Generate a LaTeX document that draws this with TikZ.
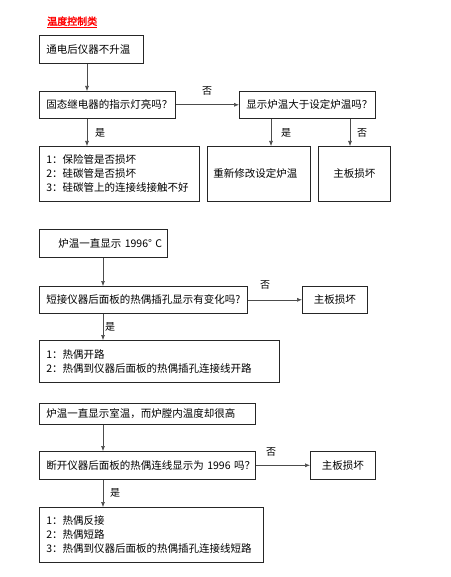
\documentclass[tikz,border=0pt]{standalone}
\usepackage{fontspec}
\setmainfont{Noto Sans CJK SC}
\newfontfamily\titlefont[FakeBold=2.5]{Noto Sans CJK SC}
\usetikzlibrary{arrows.meta}
\tikzset{
  box/.style={draw=black!85, line width=0.6pt, anchor=north west, inner xsep=7pt, inner ysep=0pt,
    align=left, font=\fontsize{10.5}{14}\selectfont},
  cbox/.style={draw=black!85, line width=0.6pt, anchor=north west, inner sep=0pt,
    align=center, font=\fontsize{10.5}{14}\selectfont},
  arr/.style={draw=black!70, line width=0.6pt, -{Latex[length=5pt,width=4pt]}},
  lbl/.style={font=\fontsize{10}{12}\selectfont, inner sep=0pt}
}
\begin{document}
\begin{tikzpicture}[x=1pt,y=-1pt]
\useasboundingbox (0,0) rectangle (450,577);
\node[anchor=base west, inner sep=0pt, text=red, font=\fontsize{10}{12}\selectfont\titlefont] (title) at (47,25) {\underline{温度控制类}};
% section 1
\node[box, text width=90pt, minimum height=28pt] (b1) at (39,35) {通电后仪器不升温};
\node[box, text width=122pt, minimum height=27pt] (b2) at (39,91) {固态继电器的指示灯亮吗？};
\node[box, text width=122pt, minimum height=27pt] (b3) at (239,91) {显示炉温大于设定炉温吗？};
\node[box, text width=146pt, minimum height=55pt] (b4) at (39,146) {1：保险管是否损坏\\2：硅碳管是否损坏\\3：硅碳管上的连接线接触不好};
\node[box, inner xsep=6pt, text width=91pt, minimum height=55pt] (b5) at (207,146) {重新修改设定炉温};
\node[cbox, minimum width=72pt, minimum height=55pt] (b6) at (318,146) {主板损坏};
\coordinate (x1) at (87,0);
\coordinate (x2) at (271,0);
\coordinate (x3) at (350,0);
\draw[arr] (b1.south -| x1) -- (b2.north -| x1);
\draw[arr] (b2.south -| x1) -- (b4.north -| x1);
\node[lbl] (l1) at (100,133) {是};
\draw[arr] (b2.east) -- (b3.west);
\node[lbl] (l2) at (207,91) {否};
\draw[arr] (b3.south -| x2) -- (b5.north -| x2);
\node[lbl] (l3) at (286,133) {是};
\draw[arr] (b3.south -| x3) -- (b6.north -| x3);
\node[lbl] (l4) at (362,133) {否};
% section 2
\node[box, text width=114pt, minimum height=28pt] (b7) at (39,229) {\mbox{\hspace{12pt}炉温一直显示~1996°~C}};
\node[box, text width=194pt, minimum height=27pt] (b8) at (39,286) {\mbox{短接仪器后面板的热偶插孔显示有变化吗?}};
\node[cbox, minimum width=65pt, minimum height=27pt] (b9) at (302,286) {主板损坏};
\node[box, text width=226pt, minimum height=42pt] (b10) at (39,340) {1：热偶开路\\2：热偶到仪器后面板的热偶插孔连接线开路};
\coordinate (x4) at (103,0);
\draw[arr] (b7.south -| x4) -- (b8.north -| x4);
\draw[arr] (b8.south -| x4) -- (b10.north -| x4);
\node[lbl] (l5) at (110,327) {是};
\draw[arr] (b8.east) -- (b9.west);
\node[lbl] (l6) at (265,285) {否};
% section 3
\node[box, text width=202pt, minimum height=21pt] (b11) at (39,403) {炉温一直显示室温，而炉膛内温度却很高};
\node[box, text width=202pt, minimum height=28pt] (b12) at (39,451) {\mbox{断开仪器后面板的热偶连线显示为~1996~吗？}};
\node[cbox, minimum width=65pt, minimum height=28pt] (b13) at (310,451) {主板损坏};
\node[box, text width=210pt, minimum height=55pt] (b14) at (39,507) {1：热偶反接\\2：热偶短路\\3：热偶到仪器后面板的热偶插孔连接线短路};
\draw[arr] (b11.south -| x4) -- (b12.north -| x4);
\draw[arr] (b12.south -| x4) -- (b14.north -| x4);
\node[lbl] (l7) at (115,493) {是};
\draw[arr] (b12.east) -- (b13.west);
\node[lbl] (l8) at (271,452) {否};
\end{tikzpicture}
\end{document}
